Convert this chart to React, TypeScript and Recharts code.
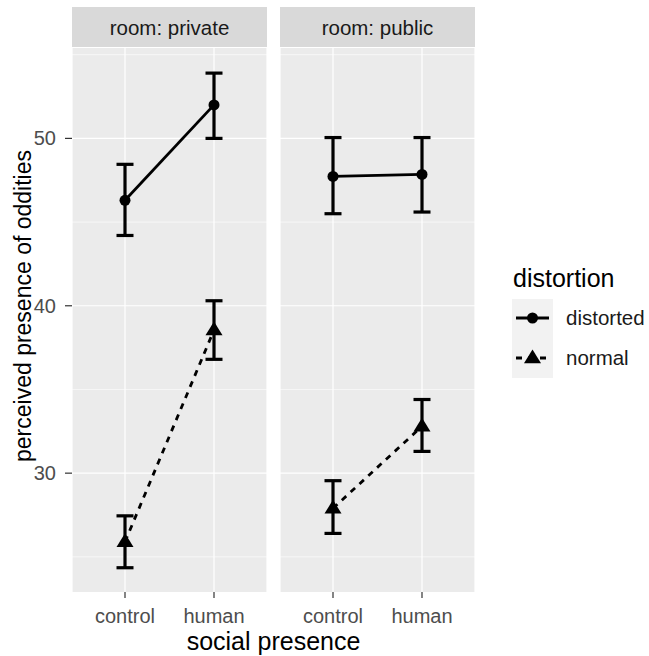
import React from "react";
import {
  LineChart,
  Line,
  CartesianGrid,
  XAxis,
  YAxis,
  ErrorBar,
} from "recharts";

const presence = ["control", "human"];

// room: private
const privateDistorted = [46.3, 52.0];
const privateDistortedLo = [44.2, 50.0];
const privateDistortedHi = [48.45, 53.9];
const privateNormal = [25.9, 38.55];
const privateNormalLo = [24.35, 36.8];
const privateNormalHi = [27.45, 40.3];

// room: public
const publicDistorted = [47.73, 47.85];
const publicDistortedLo = [45.5, 45.6];
const publicDistortedHi = [50.05, 50.05];
const publicNormal = [27.9, 32.8];
const publicNormalLo = [26.4, 31.3];
const publicNormalHi = [29.55, 34.4];

const yTicks = [30, 40, 50];
const yMinor = [25, 35, 45, 55];

const FONT = "'Liberation Sans', Arial, sans-serif";

const buildRows = (
  dist: number[],
  distLo: number[],
  distHi: number[],
  norm: number[],
  normLo: number[],
  normHi: number[]
) =>
  presence.map((p, i) => ({
    presence: p,
    distorted: dist[i],
    distortedErr: [dist[i] - distLo[i], distHi[i] - dist[i]],
    normal: norm[i],
    normalErr: [norm[i] - normLo[i], normHi[i] - norm[i]],
  }));

const privateRows = buildRows(
  privateDistorted,
  privateDistortedLo,
  privateDistortedHi,
  privateNormal,
  privateNormalLo,
  privateNormalHi
);
const publicRows = buildRows(
  publicDistorted,
  publicDistortedLo,
  publicDistortedHi,
  publicNormal,
  publicNormalLo,
  publicNormalHi
);

const CircleDot = (props: any) => {
  const { cx, cy, index } = props;
  if (cx == null || cy == null) return null;
  return <circle key={`c-${index}`} cx={cx} cy={cy} r={5.5} fill="#000" />;
};

const TriangleDot = (props: any) => {
  const { cx, cy, index } = props;
  if (cx == null || cy == null) return null;
  const s = 8.5;
  return (
    <path
      key={`t-${index}`}
      d={`M${cx},${cy - s} L${cx + s},${cy + s * 0.62} L${cx - s},${cy + s * 0.62} Z`}
      fill="#000"
    />
  );
};

interface PanelProps {
  rows: any[];
  showY: boolean;
}

const Panel: React.FC<PanelProps> = ({ rows, showY }) => {
  return (
    <LineChart
      width={showY ? 270 : 205}
      height={656}
      data={rows}
      margin={{ top: 48, right: showY ? 3 : 5, bottom: 0, left: showY ? 0 : 5 }}
    >
      <CartesianGrid
        fill="#EBEBEB"
        stroke="#FFFFFF"
        strokeWidth={0.6}
        vertical={false}
        horizontalValues={yMinor}
      />
      <CartesianGrid
        stroke="#FFFFFF"
        strokeWidth={1.2}
        horizontalValues={yTicks}
      />
      <XAxis
        dataKey="presence"
        type="category"
        padding={{ left: 53, right: 53 }}
        height={64}
        axisLine={false}
        tickSize={6}
        tickMargin={11}
        tickLine={{ stroke: "#333333", strokeWidth: 1.2 }}
        tick={{ fill: "#4D4D4D", fontSize: 20, fontFamily: FONT }}
        interval={0}
      />
      <YAxis
        type="number"
        domain={[22.9, 55.4]}
        ticks={yTicks}
        width={showY ? 72 : 0}
        hide={!showY}
        axisLine={false}
        tickSize={7}
        tickMargin={9}
        tickLine={{ stroke: "#333333", strokeWidth: 1.2 }}
        tick={{ fill: "#4D4D4D", fontSize: 20, fontFamily: FONT }}
        allowDataOverflow
      />
      <Line
        dataKey="distorted"
        stroke="#000"
        strokeWidth={2.8}
        dot={CircleDot}
        activeDot={false}
        isAnimationActive={false}
      >
        <ErrorBar
          dataKey="distortedErr"
          direction="y"
          width={8.5}
          strokeWidth={3.2}
          stroke="#000"
          isAnimationActive={false}
        />
      </Line>
      <Line
        dataKey="normal"
        stroke="#000"
        strokeWidth={2.8}
        strokeDasharray="6 6"
        dot={TriangleDot}
        activeDot={false}
        isAnimationActive={false}
      >
        <ErrorBar
          dataKey="normalErr"
          direction="y"
          width={8.5}
          strokeWidth={3.2}
          stroke="#000"
          isAnimationActive={false}
        />
      </Line>
    </LineChart>
  );
};

const Overlay: React.FC = () => (
  <svg
    width={649}
    height={656}
    style={{ position: "absolute", left: 0, top: 0, pointerEvents: "none" }}
    fontFamily={FONT}
  >
    {/* facet strips */}
    <rect x={72} y={7} width={195} height={40} fill="#D9D9D9" />
    <rect x={280} y={7} width={195} height={40} fill="#D9D9D9" />
    <text x={169.5} y={35} fontSize={20.5} fill="#1A1A1A" textAnchor="middle">
      room: private
    </text>
    <text x={377.5} y={35} fontSize={20.5} fill="#1A1A1A" textAnchor="middle">
      room: public
    </text>

    {/* axis titles */}
    <text x={273.5} y={650} fontSize={25} fill="#000" textAnchor="middle">
      social presence
    </text>
    <text
      x={0}
      y={0}
      fontSize={23}
      fill="#000"
      textAnchor="middle"
      transform="translate(31,306) rotate(-90)"
    >
      perceived presence of oddities
    </text>

    {/* legend */}
    <text x={513} y={287} fontSize={25} fill="#000">
      distortion
    </text>
    <rect x={512} y={299} width={41} height={79} fill="#F2F2F2" />
    <line x1={516} y1={318} x2={549} y2={318} stroke="#000" strokeWidth={2.8} />
    <circle cx={532.5} cy={318} r={5.5} fill="#000" />
    <line
      x1={516}
      y1={358}
      x2={549}
      y2={358}
      stroke="#000"
      strokeWidth={2.8}
      strokeDasharray="6 6"
    />
    <path d="M532.5,349.5 L541,363.3 L524,363.3 Z" fill="#000" />
    <text x={566} y={325} fontSize={20.5} fill="#1A1A1A">
      distorted
    </text>
    <text x={566} y={365} fontSize={20.5} fill="#1A1A1A">
      normal
    </text>
  </svg>
);

export default function App() {
  return (
    <div
      style={{
        position: "absolute",
        left: 0,
        top: 0,
        width: 649,
        height: 656,
        background: "#fff",
      }}
    >
      <div style={{ position: "absolute", left: 0, top: 0 }}>
        <Panel rows={privateRows} showY={true} />
      </div>
      <div style={{ position: "absolute", left: 275, top: 0 }}>
        <Panel rows={publicRows} showY={false} />
      </div>
      <Overlay />
    </div>
  );
}
